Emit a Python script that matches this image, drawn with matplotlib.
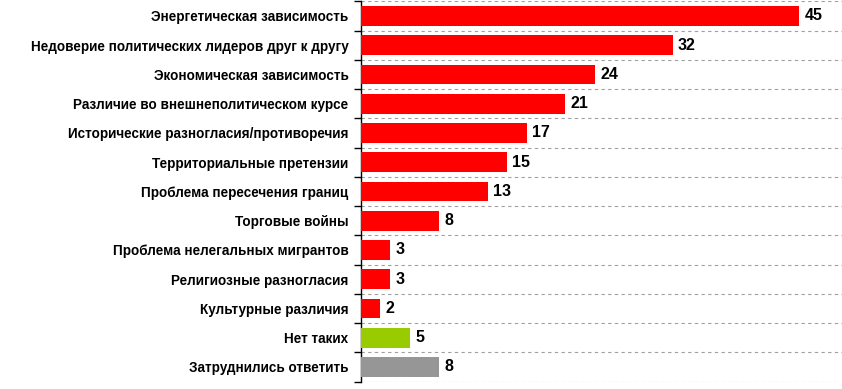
import matplotlib.pyplot as plt
import numpy as np

categories = [
    "Энергетическая зависимость",
    "Недоверие политических лидеров друг к другу",
    "Экономическая зависимость",
    "Различие во внешнеполитическом курсе",
    "Исторические разногласия/противоречия",
    "Территориальные претензии",
    "Проблема пересечения границ",
    "Торговые войны",
    "Проблема нелегальных мигрантов",
    "Религиозные разногласия",
    "Культурные различия",
    "Нет таких",
    "Затруднились ответить",
]
values = [45, 32, 24, 21, 17, 15, 13, 8, 3, 3, 2, 5, 8]
colors = ["#ff0000"] * 11 + ["#99cc00", "#969696"]

plt.rcParams["font.family"] = ["Liberation Sans", "DejaVu Sans"]

fig = plt.figure(figsize=(8.42, 3.89), dpi=100)
ax = fig.add_axes([0.4287, 0.019, 0.5713, 0.9775])

n = len(categories)
pos = np.arange(n)
ax.barh(pos, values, height=0.68, color=colors, zorder=3)
for y, v in zip(pos, values):
    ax.text(v + 0.55, y, str(v), va="center", ha="left",
            fontsize=11.5, fontweight="bold", color="black")

ax.set_xlim(0, 49.4)
ax.set_ylim(n - 0.5, -0.5)

# boundaries between rows carry the ticks and the dashed grid
ax.set_yticks(np.arange(n + 1) - 0.5)
ax.set_yticklabels([])
ax.tick_params(axis="y", which="major", direction="out", length=5, width=1, color="black")
ax.set_yticks(pos, minor=True)
ax.set_yticklabels(categories, minor=True, fontsize=9.75, fontweight="bold")
ax.tick_params(axis="y", which="minor", length=0, pad=9)
ax.yaxis.grid(True, which="major", linestyle=(0, (3, 3)), color="#a0a0a0", linewidth=0.8, zorder=0)

ax.set_xticks([])
for side in ["top", "right", "bottom"]:
    ax.spines[side].set_visible(False)
ax.spines["left"].set_linewidth(1)

fig.savefig("out.png", dpi=100)
